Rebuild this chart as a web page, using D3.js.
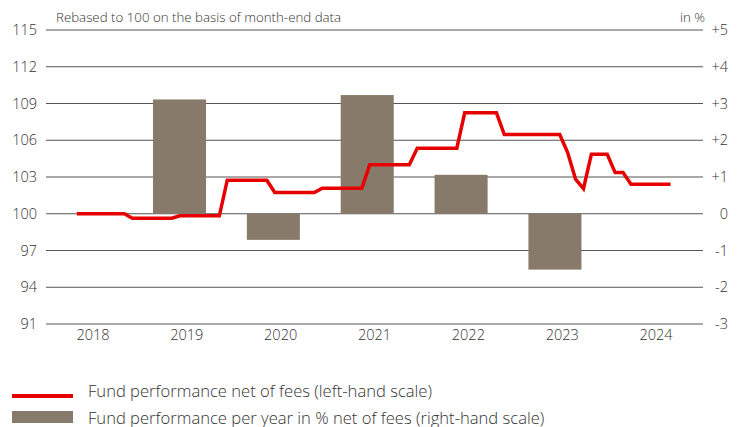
<!DOCTYPE html>
<html>
<head>
<meta charset="utf-8">
<script src="https://cdn.jsdelivr.net/npm/d3@7"></script>
<style>
  html, body { margin: 0; padding: 0; background: #fff; }
  svg { display: block; font-family: "Open Sans", "Noto Sans", sans-serif; }
</style>
</head>
<body>
<svg id="chart" width="742" height="427"></svg>
<script>
// ---- data ----
const years = [2018, 2019, 2020, 2021, 2022, 2023, 2024];
const barYears = [2019, 2020, 2021, 2022, 2023];
const barValues = [3.11, -0.71, 3.23, 1.06, -1.52];
// month-end index values (rebased to 100)
const lineValues = [
  100.0, 100.0, 100.0, 100.0, 100.0, 100.0, 100.0,
  99.64, 99.64, 99.64, 99.64, 99.64, 99.64,
  99.83, 99.83, 99.83, 99.83, 99.83, 99.83,
  102.74, 102.74, 102.74, 102.74, 102.74, 102.74,
  101.73, 101.73, 101.73, 101.73, 101.73, 101.73,
  102.09, 102.09, 102.09, 102.09, 102.09, 102.09,
  104.0, 104.0, 104.0, 104.0, 104.0, 104.0,
  105.35, 105.35, 105.35, 105.35, 105.35, 105.35,
  108.25, 108.25, 108.25, 108.25, 108.25,
  106.47, 106.47, 106.47, 106.47, 106.47, 106.47, 106.47, 106.47,
  104.99, 102.82, 102.05,
  104.86, 104.86, 104.86,
  103.36, 103.36,
  102.41, 102.41, 102.41, 102.41, 102.41, 102.41
];
const leftTicks = [91, 94, 97, 100, 103, 106, 109, 112, 115];
const rightTicks = [-3, -2, -1, 0, 1, 2, 3, 4, 5];
const rightTickLabels = ["-3", "-2", "-1", "0", "+1", "+2", "+3", "+4", "+5"];
const titleLeft = "Rebased to 100 on the basis of month-end data";
const titleRight = "in %";
const legendLabels = [
  "Fund performance net of fees (left-hand scale)",
  "Fund performance per year in % net of fees (right-hand scale)"
];

// ---- layout ----
const svg = d3.select("#chart");
const plot = { left: 46, right: 703, top: 30, bottom: 324 };
const red = "#e60000";
const brown = "#887a6b";
const textColor = "#333";

const xBand = d3.scaleBand().domain(years).range([plot.left, plot.right]);
const xMonth = d3.scaleLinear().domain([-3.9, 79.1]).range([plot.left, plot.right]);
const yLeft = d3.scaleLinear().domain([91, 115]).range([plot.bottom, plot.top]);
const yRight = d3.scaleLinear().domain([-3, 5]).range([plot.bottom, plot.top]);

function styleAxis(g) {
  g.attr("font-family", null).attr("font-size", null);
  g.select(".domain").remove();
  g.selectAll("text").attr("font-size", 14.5).attr("font-weight", 300).attr("fill", textColor);
}

// gridlines
svg.append("g").selectAll("line").data(leftTicks).join("line")
  .attr("x1", plot.left).attr("x2", plot.right)
  .attr("y1", d => yLeft(d)).attr("y2", d => yLeft(d))
  .attr("stroke", "#555").attr("stroke-width", 1.2);

// left axis labels
const leftAxis = d3.axisLeft(yLeft).tickValues(leftTicks).tickSize(0).tickPadding(9);
svg.append("g").attr("transform", `translate(${plot.left},0)`).call(leftAxis).call(styleAxis);

// right axis labels
const rightAxis = d3.axisRight(yRight).tickValues(rightTicks).tickSize(0).tickPadding(0)
  .tickFormat((d, i) => rightTickLabels[i]);
svg.append("g").attr("transform", `translate(${plot.right + 25},0)`).call(rightAxis).call(styleAxis)
  .selectAll("text").attr("text-anchor", "end");

// bottom axis labels
const bottomAxis = d3.axisBottom(xBand).tickSize(0).tickPadding(6);
svg.append("g").attr("transform", `translate(0,${plot.bottom})`).call(bottomAxis).call(styleAxis);

// bars
const bw = xBand.bandwidth();
svg.append("g").selectAll("rect").data(barYears.map((y, i) => ({ y, v: barValues[i] }))).join("rect")
  .attr("x", d => xBand(d.y) + bw * 0.14)
  .attr("width", bw * 0.565)
  .attr("y", d => yRight(Math.max(0, d.v)))
  .attr("height", d => Math.abs(yRight(d.v) - yRight(0)))
  .attr("fill", brown);

// line
const line = d3.line().x((d, i) => xMonth(i)).y(d => yLeft(d));
svg.append("path").datum(lineValues)
  .attr("d", line)
  .attr("fill", "none").attr("stroke", red).attr("stroke-width", 3.5)
  .attr("stroke-linejoin", "miter");

// titles
svg.append("text").attr("x", 56).attr("y", 22).attr("font-size", 13.3).attr("font-weight", 300).attr("fill", textColor).text(titleLeft);
svg.append("text").attr("x", 705).attr("y", 22).attr("text-anchor", "end").attr("font-size", 13.3).attr("font-weight", 300).attr("fill", textColor).text(titleRight);

// legend
const lg = svg.append("g");
lg.append("line").attr("x1", 12).attr("x2", 73).attr("y1", 396).attr("y2", 396)
  .attr("stroke", red).attr("stroke-width", 4);
lg.append("rect").attr("x", 12).attr("y", 411).attr("width", 61).attr("height", 12).attr("fill", brown);
lg.selectAll("text.leg").data(legendLabels).join("text").attr("class", "leg")
  .attr("x", 88).attr("y", (d, i) => 397 + i * 26.5)
  .attr("font-size", 16.6).attr("font-weight", 300).attr("fill", textColor).text(d => d);
</script>
</body>
</html>
